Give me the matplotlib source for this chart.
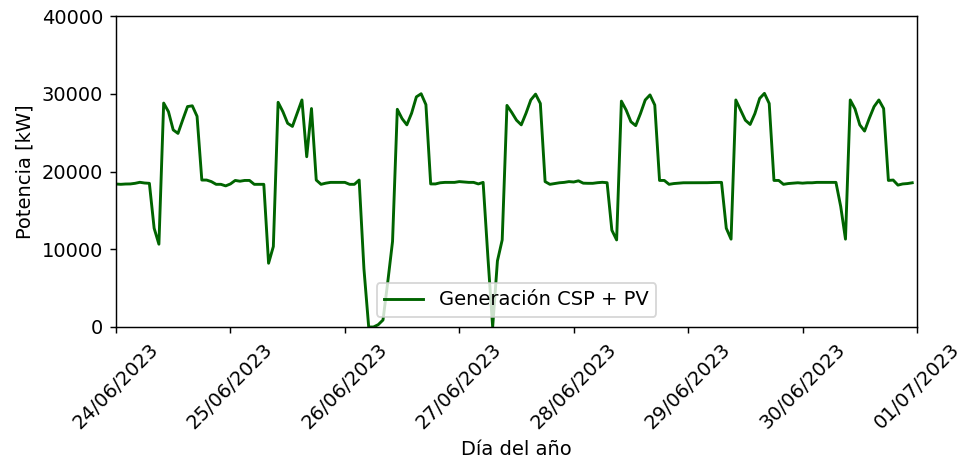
import matplotlib
matplotlib.use('Agg')
import matplotlib.pyplot as plt
import matplotlib.dates as mdates
import numpy as np
import pandas as pd

# hourly generation (kW), one list per day
dia_24 = [18390, 18350, 18390, 18400, 18480, 18610, 18520, 18480, 12700, 10650, 28800, 27700,
          25350, 24900, 26650, 28350, 28450, 27100, 18900, 18900, 18700, 18350, 18350, 18150]
dia_25 = [18400, 18850, 18750, 18850, 18850, 18350, 18350, 18350, 8200, 10350, 28900, 27700,
          26200, 25800, 27500, 29200, 21900, 28100, 18900, 18350, 18500, 18600, 18600, 18600]
dia_26 = [18600, 18350, 18350, 18900, 7500, 0, 0, 300, 900, 5800, 11000, 28000,
          26800, 26000, 27500, 29600, 30000, 28600, 18400, 18400, 18550, 18600, 18600, 18600]
dia_27 = [18700, 18650, 18600, 18600, 18400, 18600, 9000, 0, 8500, 11200, 28500, 27600,
          26600, 26000, 27500, 29200, 29950, 28750, 18700, 18350, 18450, 18550, 18600, 18700]
dia_28 = [18650, 18800, 18500, 18480, 18480, 18560, 18610, 18560, 12450, 11200, 29050, 27900,
          26400, 25900, 27450, 29200, 29850, 28550, 18850, 18850, 18350, 18450, 18500, 18550]
dia_29 = [18550, 18550, 18550, 18550, 18560, 18580, 18600, 18600, 12700, 11300, 29200, 27900,
          26600, 26050, 27450, 29400, 30050, 28750, 18850, 18850, 18350, 18450, 18500, 18550]
dia_30 = [18500, 18550, 18550, 18600, 18600, 18600, 18600, 18600, 15500, 11300, 29200, 28050,
          26000, 25200, 26850, 28350, 29200, 28100, 18850, 18900, 18250, 18400, 18450, 18550]

potencia = np.concatenate([dia_24, dia_25, dia_26, dia_27, dia_28, dia_29, dia_30])
fechas = pd.date_range('2023-06-24 00:00', periods=len(potencia), freq='h')

y_ticks = [0, 10000, 20000, 30000, 40000]

plt.rcParams['font.size'] = 10.8

fig = plt.figure(figsize=(962 / 130, 464 / 130), dpi=130)
ax = fig.add_subplot(111)
fig.subplots_adjust(left=116 / 962, right=917 / 962, top=1 - 16 / 464, bottom=1 - 327 / 464)

ax.plot(fechas, potencia, color='darkgreen', linewidth=1.6, label='Generación CSP + PV')

ax.set_xlim(pd.Timestamp('2023-06-24'), pd.Timestamp('2023-07-01'))
ax.set_ylim(0, 40000)
ax.set_yticks(y_ticks)

ax.xaxis.set_major_locator(mdates.DayLocator())
ax.xaxis.set_major_formatter(mdates.DateFormatter('%d/%m/%Y'))
plt.setp(ax.get_xticklabels(), rotation=45)

ax.set_xlabel('Día del año')
ax.set_ylabel('Potencia [kW]')
ax.legend(loc='lower center')

fig.savefig('out.png', dpi=130)
